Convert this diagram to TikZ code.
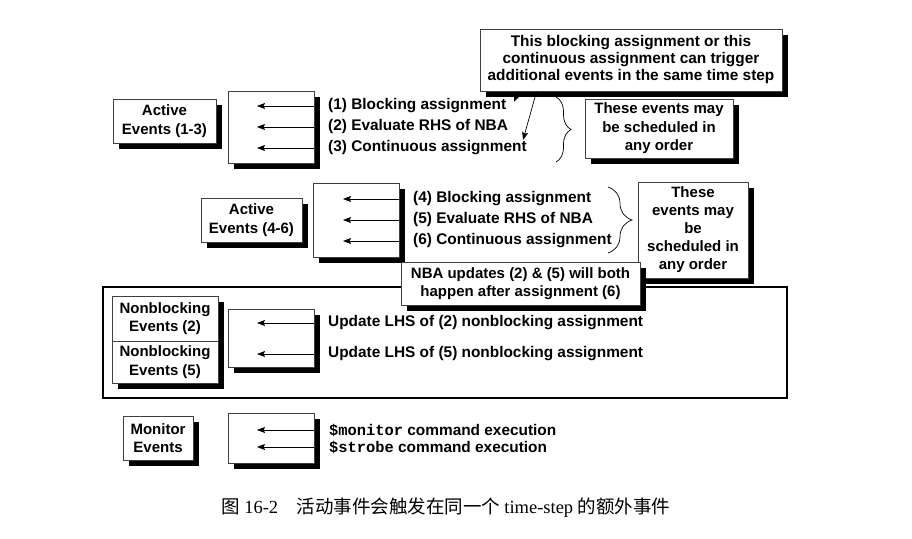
\documentclass[tikz,border=0pt]{standalone}
\usepackage{fontspec}
\setmainfont{Liberation Sans}
\newfontfamily\monob{Liberation Mono}
\newfontfamily\cjk{Noto Sans CJK SC}
\newfontfamily\capserif{Liberation Serif}
\usetikzlibrary{shadows,decorations.pathreplacing,arrows.meta}
\begin{document}
\begin{tikzpicture}[x=1pt,y=-1pt,
  box/.style={draw=black!75, fill=white, line width=0.8pt, inner sep=0pt, align=center,
    drop shadow={shadow xshift=6pt, shadow yshift=-6pt, fill=black, opacity=1},
    font=\bfseries\fontsize{15}{18.5}\selectfont},
  lbl/.style={anchor=west, inner sep=0pt, font=\bfseries\fontsize{15.4}{18}\selectfont},
  arr/.style={line width=0.7pt, {Stealth[length=8pt,width=6pt,inset=1.5pt]}-},
  carr/.style={line width=0.7pt, -{Stealth[length=8pt,width=6pt,inset=1.5pt]}},
  brc/.style={line width=0.7pt, decorate},
  big/.style={draw=black, line width=1.6pt}]
\useasboundingbox (0,0) rectangle (912,538);

% group 1
\node[box, minimum width=103, minimum height=44] (ae1) at (164.5,121) {Active\\Events (1-3)};
\node[box, minimum width=86, minimum height=72] (ib1) at (271,127) {};
\node[lbl] (t1) at (328,106) {(1) Blocking assignment};
\node[lbl] (t2) at (328,127) {(2) Evaluate RHS of NBA};
\node[lbl] (t3) at (328,148) {(3) Continuous assignment};
\coordinate (a1) at (257,106);
\coordinate (a2) at (257,127);
\coordinate (a3) at (257,148);
\draw[arr] (a1) -- (ib1.east |- a1);
\draw[arr] (a2) -- (ib1.east |- a2);
\draw[arr] (a3) -- (ib1.east |- a3);

\node[box, minimum width=302, minimum height=62, font=\bfseries\fontsize{15.4}{17}\selectfont] (tc) at (631,60)
  {This blocking assignment or this\\continuous assignment can trigger\\additional events in the same time step};
\coordinate (c1) at (514,102);
\coordinate (c2) at (523,140);
\draw[carr] ([xshift=39pt]tc.south west) -- (c1);
\draw[carr] ([xshift=57pt]tc.south west) -- (c2);

\draw[brc, decoration={brace, amplitude=15pt}] (556,97) -- (556,162);
\node[box, minimum width=148, minimum height=59] (ord1) at (659,128.5)
  {These events may\\be scheduled in\\any order};

% group 2
\node[box, minimum width=101, minimum height=44] (ae2) at (251.5,220) {Active\\Events (4-6)};
\node[box, minimum width=86, minimum height=74] (ib2) at (356,220) {};
\node[lbl] (t4) at (413,199) {(4) Blocking assignment};
\node[lbl] (t5) at (413,220) {(5) Evaluate RHS of NBA};
\node[lbl] (t6) at (413,241) {(6) Continuous assignment};
\coordinate (a4) at (343,199);
\coordinate (a5) at (343,220);
\coordinate (a6) at (343,241);
\draw[arr] (a4) -- (ib2.east |- a4);
\draw[arr] (a5) -- (ib2.east |- a5);
\draw[arr] (a6) -- (ib2.east |- a6);

\draw[brc, decoration={brace, amplitude=24pt}] (608,187) -- (608,253);
\node[box, minimum width=110, minimum height=96, font=\bfseries\fontsize{15}{18}\selectfont] (ord2) at (693,230)
  {These\\events may\\be\\scheduled in\\any order};

% nonblocking region
\draw[big] (103,287) rectangle (787,398);
\node[box, minimum width=239, minimum height=43] (nba) at (520.5,283.5)
  {NBA updates (2) \& (5) will both\\happen after assignment (6)};

\node[box, minimum width=106, minimum height=45] (nb2) at (165,318.5) {Nonblocking\\Events (2)};
\node[box, minimum width=106, minimum height=42] (nb5) at (165,362) {Nonblocking\\Events (5)};
\node[box, minimum width=86, minimum height=58] (ib3) at (271,338) {};
\node[lbl] (t7) at (328,323) {Update LHS of (2) nonblocking assignment};
\node[lbl] (t8) at (328,354) {Update LHS of (5) nonblocking assignment};
\coordinate (a7) at (257,323);
\coordinate (a8) at (257,354);
\draw[arr] (a7) -- (ib3.east |- a7);
\draw[arr] (a8) -- (ib3.east |- a8);

% monitor
\node[box, minimum width=70, minimum height=44] (me) at (158,438) {Monitor\\Events};
\node[box, minimum width=86, minimum height=50] (ib4) at (271,438) {};
\node[lbl] (t9) at (329,430) {{\monob\bfseries \$monitor} command execution};
\node[lbl] (t10) at (329,447) {{\monob\bfseries \$strobe} command execution};
\coordinate (a9) at (257,430);
\coordinate (a10) at (257,447);
\draw[arr] (a9) -- (ib4.east |- a9);
\draw[arr] (a10) -- (ib4.east |- a10);

% caption
\node[inner sep=0pt, font=\fontsize{18.5}{20}\selectfont] (cap) at (446,508)
  {\cjk 图\ \capserif 16-2\quad\cjk 活动事件会触发在同一个\ \capserif time-step\ \cjk 的额外事件};
\end{tikzpicture}
\end{document}
